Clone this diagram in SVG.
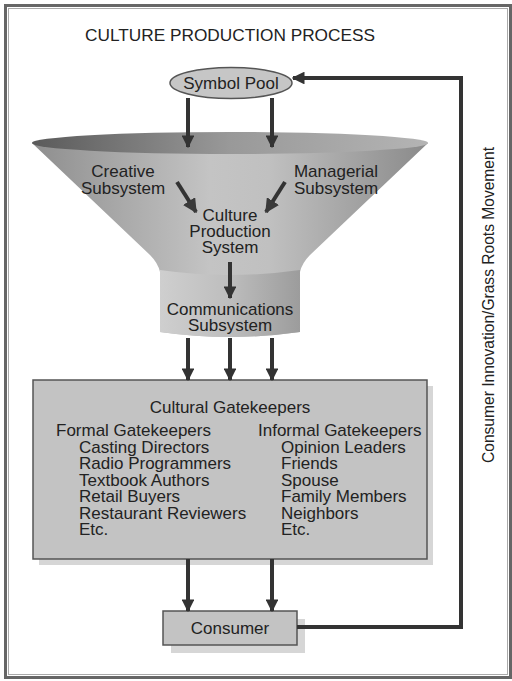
<svg xmlns="http://www.w3.org/2000/svg" width="512" height="681" viewBox="0 0 512 681">
<defs>
<linearGradient id="coneG" x1="0" y1="0" x2="1" y2="0">
<stop offset="0" stop-color="#8e8e8e"/>
<stop offset="0.45" stop-color="#c4c4c4"/>
<stop offset="0.6" stop-color="#c0c0c0"/>
<stop offset="1" stop-color="#8a8a8a"/>
</linearGradient>
<linearGradient id="topG" x1="0" y1="0" x2="1" y2="0">
<stop offset="0" stop-color="#5a5a5a"/>
<stop offset="0.5" stop-color="#999"/>
<stop offset="1" stop-color="#b4b4b4"/>
</linearGradient>
<linearGradient id="cylG" x1="0" y1="0" x2="1" y2="0">
<stop offset="0" stop-color="#cfcfcf"/>
<stop offset="0.5" stop-color="#bdbdbd"/>
<stop offset="1" stop-color="#9c9c9c"/>
</linearGradient>
<marker id="ah" viewBox="0 0 10 10" refX="9" refY="5" markerWidth="3.2" markerHeight="3.2" orient="auto" markerUnits="strokeWidth">
<path d="M0,0 L10,5 L0,10 Z" fill="#333"/>
</marker>
<marker id="ah2" viewBox="0 0 10 10" refX="9" refY="5" markerWidth="3.6" markerHeight="3.6" orient="auto" markerUnits="strokeWidth">
<path d="M0,0 L10,5 L0,10 Z" fill="#3a3a3a"/>
</marker>
</defs>
<style>
text{font-family:"Liberation Sans",Arial,sans-serif;font-size:17px;fill:#222}
.c{text-anchor:middle}
.ln{stroke:#333;stroke-width:4;fill:none}
.box{fill:#c3c3c3;stroke:#555;stroke-width:1.5}
.sh{fill:#d6d6d6}
</style>
<rect x="0" y="0" width="512" height="681" fill="#fff"/>
<g id="frame">
<rect x="5.5" y="5.5" width="505" height="672" fill="none" stroke="#666" stroke-width="3"/>
<rect x="8.5" y="8.5" width="499" height="666" fill="none" stroke="#aaa" stroke-width="1"/>
</g>
<g id="title"><text x="85" y="41" textLength="290" lengthAdjust="spacingAndGlyphs">CULTURE PRODUCTION PROCESS</text></g>
<g id="funnel">
<path d="M32,143 L150,255 Q158,263 160,272 L160,332 Q230,342 300,332 L300,272 Q302,263 310,255 L428,143 Z" fill="url(#coneG)"/>
<path d="M160,270 Q230,280 300,270 L300,332 Q230,342 160,332 Z" fill="url(#cylG)"/>
<ellipse cx="230" cy="143" rx="198" ry="11" fill="url(#topG)"/>
</g>
<g id="symbolPool">
<ellipse cx="231" cy="83" rx="61" ry="15.5" fill="#c6c6c6" stroke="#555" stroke-width="1.5"/>
<text class="c" x="231" y="89">Symbol Pool</text>
</g>
<g id="creative"><text class="c" x="123" y="177">Creative</text><text class="c" x="123" y="194">Subsystem</text></g>
<g id="managerial"><text class="c" x="336" y="177">Managerial</text><text class="c" x="336" y="194">Subsystem</text></g>
<g id="cps"><text class="c" x="230" y="221">Culture</text><text class="c" x="230" y="237">Production</text><text class="c" x="230" y="253">System</text></g>
<g id="comm"><text class="c" x="230" y="315">Communications</text><text class="c" x="230" y="331">Subsystem</text></g>
<g id="gatekeepers">
<rect class="sh" x="39" y="386" width="394" height="179"/>
<rect class="box" x="33" y="380" width="394" height="179"/>
<text class="c" x="230" y="413">Cultural Gatekeepers</text>
<text x="56" y="436">Formal Gatekeepers</text>
<text x="79" y="453">Casting Directors</text>
<text x="79" y="469">Radio Programmers</text>
<text x="79" y="486">Textbook Authors</text>
<text x="79" y="502">Retail Buyers</text>
<text x="79" y="519">Restaurant Reviewers</text>
<text x="79" y="535">Etc.</text>
<text x="258" y="436">Informal Gatekeepers</text>
<text x="281" y="453">Opinion Leaders</text>
<text x="281" y="469">Friends</text>
<text x="281" y="486">Spouse</text>
<text x="281" y="502">Family Members</text>
<text x="281" y="519">Neighbors</text>
<text x="281" y="535">Etc.</text>
</g>
<g id="consumer">
<rect class="sh" x="171" y="619" width="134" height="34"/>
<rect class="box" x="163" y="611" width="134" height="34"/>
<text class="c" x="230" y="634">Consumer</text>
</g>
<g id="sideLabel"><text class="c" transform="translate(494,305) rotate(-90)" font-size="14" textLength="316" lengthAdjust="spacingAndGlyphs">Consumer Innovation/Grass Roots Movement</text></g>
<g id="connectors">
<line class="ln" x1="188" y1="98" x2="188" y2="147" marker-end="url(#ah)"/>
<line class="ln" x1="272" y1="98" x2="272" y2="147" marker-end="url(#ah)"/>
<line class="ln" x1="177" y1="182" x2="196" y2="212" marker-end="url(#ah2)"/>
<line class="ln" x1="285" y1="182" x2="266" y2="212" marker-end="url(#ah2)"/>
<line class="ln" x1="230" y1="262" x2="230" y2="298" marker-end="url(#ah)"/>
<line class="ln" x1="188" y1="338" x2="188" y2="380" marker-end="url(#ah)"/>
<line class="ln" x1="230" y1="338" x2="230" y2="380" marker-end="url(#ah)"/>
<line class="ln" x1="272" y1="338" x2="272" y2="380" marker-end="url(#ah)"/>
<line class="ln" x1="188" y1="559" x2="188" y2="611" marker-end="url(#ah)"/>
<line class="ln" x1="272" y1="559" x2="272" y2="611" marker-end="url(#ah)"/>
<polyline class="ln" points="297,627 461,627 461,78 293,78" marker-end="url(#ah)"/>
</g>
</svg>
